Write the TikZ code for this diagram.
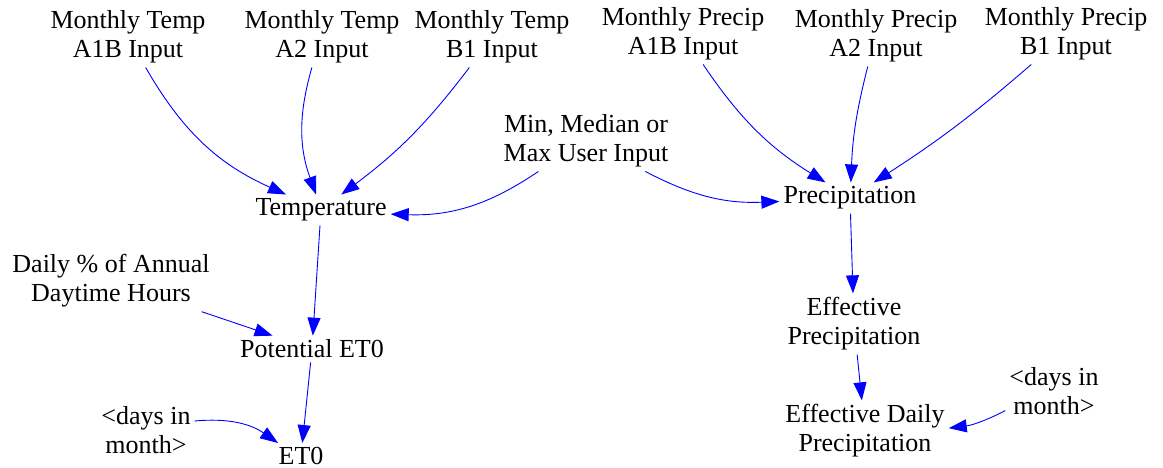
\documentclass[tikz,border=0pt]{standalone}
\usepackage{fontspec}
\setmainfont{Liberation Serif}
\newfontfamily\varfont{Liberation Serif}
\usetikzlibrary{arrows.meta}
\tikzset{
	var/.style={align=center, inner sep=4pt, font=\varfont\fontsize{26}{29}\selectfont},
	link/.style={draw=blue, line width=0.9pt, -{Triangle[length=18pt,width=13pt]}}
}
\begin{document}
\begin{tikzpicture}[x=1pt,y=1pt]
	\useasboundingbox (0,0) rectangle (1163,-468);
	\node[var] (tempA1B) at (128,-37) {Monthly Temp\\A1B Input};
	\node[var] (tempA2) at (322,-37) {Monthly Temp\\A2 Input};
	\node[var] (tempB1) at (492,-37) {Monthly Temp\\B1 Input};
	\node[var] (precA1B) at (683,-34) {Monthly Precip\\A1B Input};
	\node[var] (precA2) at (876,-36) {Monthly Precip\\A2 Input};
	\node[var] (precB1) at (1066,-34) {Monthly Precip\\B1 Input};
	\node[var] (choice) at (586,-141) {Min, Median or\\Max User Input};
	\node[var] (temp) at (321,-210) {Temperature};
	\node[var] (prec) at (850,-198) {Precipitation};
	\node[var] (daylight) at (111,-281) {Daily \% of Annual\\Daytime Hours};
	\node[var] (potet) at (312,-349) {Potential ET0};
	\node[var] (et) at (301,-456) {ET0};
	\node[var] (daysL) at (146,-430) {<days in\\month>};
	\node[var] (effprec) at (854,-324) {Effective\\Precipitation};
	\node[var] (dailyprec) at (865,-431) {Effective Daily\\Precipitation};
	\node[var] (daysR) at (1054,-391) {<days in\\month>};
	% temperature side
	\draw[link] (tempA1B) to[bend right=18] (temp);
	\draw[link] (tempA2) to[bend right=18] (temp);
	\draw[link] (tempB1) to[bend left=8] (temp);
	\draw[link] (choice) to[bend left=18] (temp);
	\draw[link] (temp) -- (potet);
	\draw[link] (daylight) -- (potet);
	\draw[link] (potet) -- (et);
	\draw[link] (daysL) to[bend left=20] (et);
	% precipitation side
	\draw[link] (choice) to[bend right=15] (prec);
	\draw[link] (precA1B) to[bend right=12] (prec);
	\draw[link] (precA2) to[bend right=6] (prec);
	\draw[link] (precB1) to[bend left=4] (prec);
	\draw[link] (prec) -- (effprec);
	\draw[link] (effprec) -- (dailyprec);
	\draw[link] (daysR) to[bend left=10] (dailyprec);
\end{tikzpicture}
\end{document}
